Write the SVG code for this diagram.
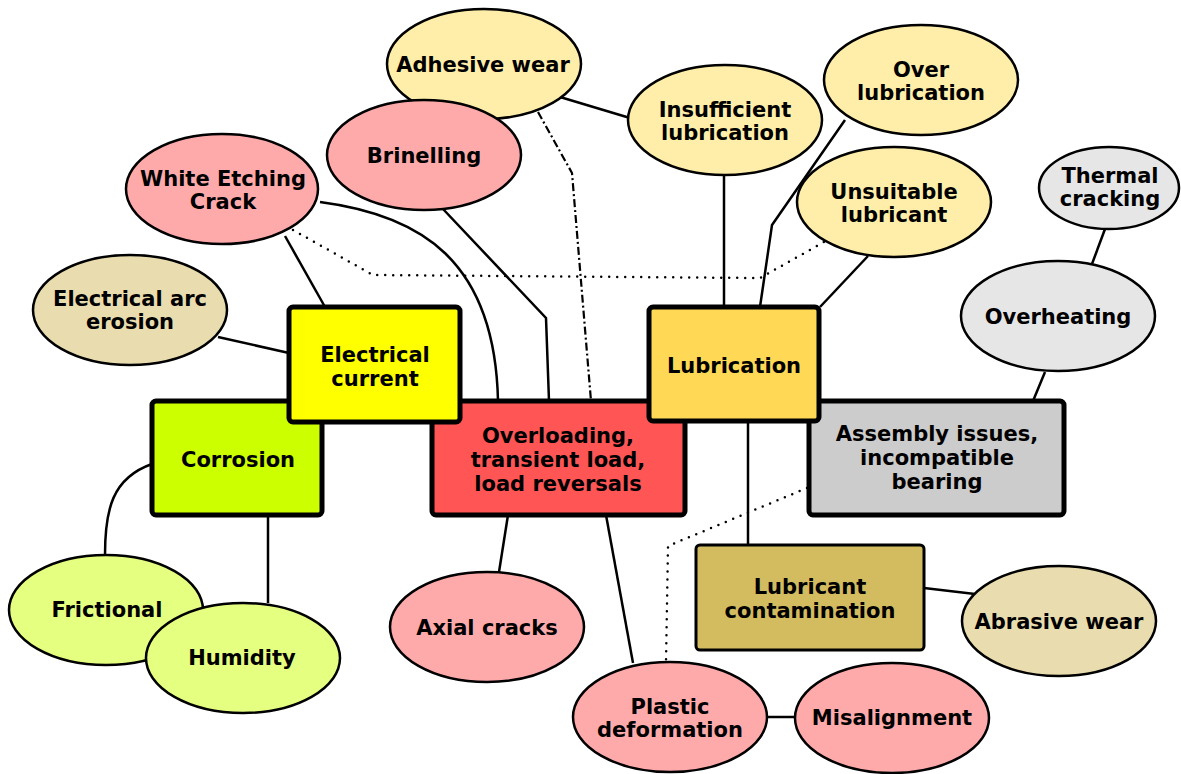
<svg xmlns="http://www.w3.org/2000/svg" width="1181" height="774" viewBox="0 0 1181 774">
<style>
text{font-family:"DejaVu Sans","Verdana",sans-serif;font-weight:bold;font-size:21px;fill:#000;text-anchor:middle}
.e{stroke:#000;stroke-width:2.5}
.b{stroke:#000;stroke-width:5}
.c{fill:none;stroke:#000;stroke-width:2.5}
.dot{fill:none;stroke:#000;stroke-width:2.5;stroke-linecap:round;stroke-dasharray:0 8}
.dd{fill:none;stroke:#000;stroke-width:2.2;stroke-dasharray:8 3 2 3}
.red{fill:#FFAAAA}.yel{fill:#FFEEAA}.tan{fill:#E9DDAF}.grn{fill:#E5FF80}.gry{fill:#E6E6E6}
</style>
<rect width="1181" height="774" fill="#fff"/>
<g id="connectors">
<path class="c" d="M560,97 L630,118"/>
<path class="c" d="M724,174 L724,307"/>
<path class="c" d="M845,120 L772,225 L760,307"/>
<path class="c" d="M868,256 L820,307"/>
<path class="c" d="M1105,229 L1092,264"/>
<path class="c" d="M1045,372 L1033,401"/>
<path class="c" d="M748,421 L748,545"/>
<path class="c" d="M924,588 L975,594"/>
<path class="c" d="M767,717 L795,717"/>
<path class="c" d="M606,515 L633,663"/>
<path class="c" d="M508,515 L499,572"/>
<path class="c" d="M268,515 L268,603"/>
<path class="c" d="M152,464 C112,478 105,510 105,555"/>
<path class="c" d="M218,337 L289,353"/>
<path class="c" d="M285,236 L325,307"/>
<path class="c" d="M320,202 C420,215 495,260 498,401"/>
<path class="c" d="M443,209 L546,318 L549,401"/>
<path class="dd" d="M538,112 L572,173 L591,401"/>
<path class="dot" d="M293,230 L373,275 L760,278 L824,242"/>
<path class="dot" d="M807,488 L668,546 L666,662"/>
</g>
<g id="adhesive-wear"><ellipse class="e yel" cx="484" cy="64" rx="97" ry="55"/><text x="483" y="71.5">Adhesive wear</text></g>
<g id="brinelling"><ellipse class="e red" cx="424" cy="155" rx="97" ry="55"/><text x="424" y="162.5">Brinelling</text></g>
<g id="white-etching-crack"><ellipse class="e red" cx="222" cy="189" rx="96" ry="55"/><text x="223" y="186">White Etching</text><text x="223" y="209">Crack</text></g>
<g id="insufficient-lubrication"><ellipse class="e yel" cx="725" cy="120" rx="97" ry="55"/><text x="725" y="117">Insufficient</text><text x="725" y="140">lubrication</text></g>
<g id="over-lubrication"><ellipse class="e yel" cx="921" cy="80" rx="97" ry="55"/><text x="921" y="77">Over</text><text x="921" y="100">lubrication</text></g>
<g id="unsuitable-lubricant"><ellipse class="e yel" cx="894" cy="202" rx="97" ry="55"/><text x="894" y="199">Unsuitable</text><text x="894" y="222">lubricant</text></g>
<g id="thermal-cracking"><ellipse class="e gry" cx="1109" cy="188" rx="70" ry="41"/><text x="1110" y="183">Thermal</text><text x="1110" y="206">cracking</text></g>
<g id="overheating"><ellipse class="e gry" cx="1058" cy="316" rx="97" ry="55"/><text x="1058" y="323.5">Overheating</text></g>
<g id="electrical-arc-erosion"><ellipse class="e tan" cx="130" cy="310" rx="97" ry="55"/><text x="130" y="306">Electrical arc</text><text x="130" y="329">erosion</text></g>
<g id="frictional"><ellipse class="e grn" cx="106" cy="610" rx="97" ry="55"/><text x="107" y="616.5">Frictional</text></g>
<g id="humidity"><ellipse class="e grn" cx="243" cy="658" rx="97" ry="55"/><text x="242" y="664.5">Humidity</text></g>
<g id="axial-cracks"><ellipse class="e red" cx="487" cy="627" rx="97" ry="55"/><text x="487" y="634.5">Axial cracks</text></g>
<g id="plastic-deformation"><ellipse class="e red" cx="670" cy="717" rx="97" ry="55"/><text x="670" y="714">Plastic</text><text x="670" y="737">deformation</text></g>
<g id="misalignment"><ellipse class="e red" cx="892" cy="718" rx="97" ry="55"/><text x="892" y="725">Misalignment</text></g>
<g id="abrasive-wear"><ellipse class="e tan" cx="1059" cy="621" rx="97" ry="55"/><text x="1059" y="628.5">Abrasive wear</text></g>
<g id="corrosion"><rect class="b" x="152" y="401" width="170" height="114" rx="4" fill="#CCFF00"/><text x="238" y="466.5">Corrosion</text></g>
<g id="overloading"><rect class="b" x="432" y="401" width="253" height="114" rx="4" fill="#FF5555"/><text x="558" y="442.5">Overloading,</text><text x="558" y="466.5">transient load,</text><text x="558" y="490.5">load reversals</text></g>
<g id="assembly-issues"><rect class="b" x="809" y="401" width="255" height="114" rx="4" fill="#CCCCCC"/><text x="937" y="440.5">Assembly issues,</text><text x="937" y="464.5">incompatible</text><text x="937" y="488.5">bearing</text></g>
<g id="electrical-current"><rect class="b" x="289" y="307" width="171" height="115" rx="4" fill="#FFFF00"/><text x="375" y="361.5">Electrical</text><text x="375" y="385.5">current</text></g>
<g id="lubrication"><rect class="b" x="649" y="307" width="170" height="114" rx="4" fill="#FFD955"/><text x="734" y="372.5">Lubrication</text></g>
<g id="lubricant-contamination"><rect x="696" y="545" width="228" height="105" rx="4" fill="#D3BC5F" stroke="#000" stroke-width="3"/><text x="810" y="594">Lubricant</text><text x="810" y="618">contamination</text></g>
</svg>
